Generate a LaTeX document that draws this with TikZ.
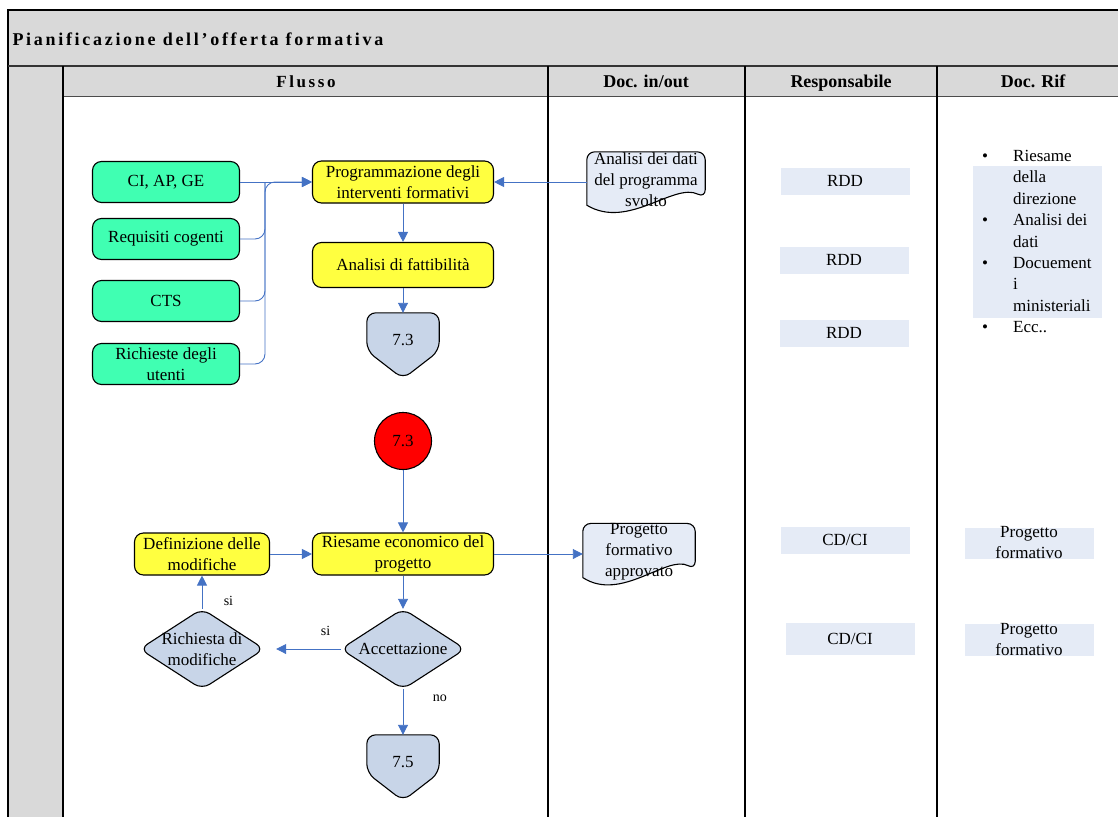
\documentclass[tikz,border=0pt]{standalone}
\usepackage{fontspec}
\setmainfont{Liberation Serif}
\usetikzlibrary{arrows.meta,calc,backgrounds}
\definecolor{verdeacqua}{RGB}{64,255,178}
\definecolor{giallo}{RGB}{255,255,64}
\definecolor{grigioblu}{RGB}{200,213,232}
\definecolor{azzurrino}{RGB}{229,235,246}
\definecolor{blulinea}{RGB}{68,114,196}
\definecolor{grigiotab}{RGB}{217,217,217}
\newcommand{\spaziato}{\addfontfeatures{LetterSpace=15}}
\newcommand{\punto}{\makebox[31pt][l]{\textbullet}}
\newcommand{\rientro}{\hspace*{31pt}}

\begin{document}
\begin{tikzpicture}[x=1pt,y=-1pt,
		font=\fontsize{17}{21}\selectfont,
		flow/.style={-{Triangle[length=10pt,width=10pt]}, draw=blulinea, line width=0.9pt},
		linea/.style={draw=blulinea, line width=0.9pt},
		ingresso/.style={draw, line width=1.1pt, rounded corners=9pt, fill=verdeacqua, minimum width=147pt, minimum height=41pt, align=center, inner sep=1pt},
		attivita/.style={draw, line width=1.1pt, rounded corners=9pt, fill=giallo, minimum width=181pt, minimum height=42pt, align=center, inner sep=1pt},
		connettore/.style={minimum width=72pt, minimum height=54pt, inner sep=0pt},
		decisione/.style={minimum width=124pt, minimum height=80pt, inner sep=0pt, align=center},
		documento/.style={minimum width=118pt, minimum height=56pt, inner sep=0pt, align=center},
		bordo/.style={draw, line width=1.1pt, fill=#1},
		ruolo/.style={fill=azzurrino, minimum width=129pt, minimum height=27pt, inner sep=0pt, align=center},
		intestazione/.style={anchor=base, font=\fontsize{18}{21}\selectfont\bfseries},
		etichetta/.style={font=\fontsize{14}{16}\selectfont}]
	% tabella
	\useasboundingbox (0,0) rectangle (1118,816);
	\clip (0,0) rectangle (1118,816);
	\fill[grigiotab] (8,10) rectangle (1130,66);
	\fill[grigiotab] (8,66) rectangle (63,820);
	\fill[grigiotab] (63,66) rectangle (1130,96);
	\draw[line width=1.5pt] (8,820) -- (8,10) -- (1130,10);
	\draw[line width=2.5pt, black!80] (8,66) -- (1130,66);
	\draw[line width=1pt, black!70] (63,96) -- (1130,96);
	\draw[line width=2pt] (63,66) -- (63,820);
	\foreach \x in {548,745,937}
		\draw[line width=1.5pt] (\x,66) -- (\x,820);
	\node[anchor=base west, font=\fontsize{18}{20}\selectfont\bfseries\spaziato] (titolo) at (9,46) {Pianificazione dell'offerta formativa};
	\node[intestazione, font=\fontsize{17}{20}\selectfont\bfseries\spaziato] (hflusso) at (306,87) {Flusso};
	\node[intestazione] (hdoc) at (646,87) {Doc. in/out};
	\node[intestazione] (hresp) at (841,87) {Responsabile};
	\node[intestazione] (hrif) at (1033,87) {Doc. Rif};

	% flusso
	\node[ingresso] (ciapge) at (166,182) {CI, AP, GE};
	\node[ingresso] (requisiti) at (166,239) {Requisiti cogenti};
	\node[ingresso] (cts) at (166,301) {CTS};
	\node[ingresso] (richieste) at (166,364) {Richieste degli\\utenti};
	\node[attivita] (programma) at (403,182) {Programmazione degli\\interventi formativi};
	\node[attivita, minimum height=45pt] (fattibilita) at (403,265) {Analisi di fattibilità};
	\node[connettore] (off73) at (403,340) {7.3};
	\node[circle, draw, line width=1.1pt, fill=red, minimum size=57pt, inner sep=0pt] (cerchio) at (403,441) {7.3};
	\node[attivita] (riesame) at (403,554) {Riesame economico del\\progetto};
	\node[attivita, minimum width=135pt] (definizione) at (202,554) {Definizione delle\\modifiche};
	\node[decisione] (richiesta) at (202,649) {Richiesta di\\modifiche};
	\node[decisione] (accettazione) at (403,649) {Accettazione};
	\node[connettore] (off75) at (403,762) {7.5};
	\coordinate (tronco) at (265,182);

	% documenti
	\node[documento] (datiprog) at (646,180) {Analisi dei dati\\del programma\\svolto};
	\node[documento, minimum width=112pt] (progapprov) at (639,552) {Progetto\\formativo\\approvato};

	% responsabili e riferimenti
	\node[ruolo] (rdd1) at (845,181) {RDD};
	\node[ruolo] (rdd2) at (844,260) {RDD};
	\node[ruolo] (rdd3) at (844,333) {RDD};
	\node[ruolo] (cdci1) at (845,540) {CD/CI};
	\node[ruolo, minimum height=32pt] (cdci2) at (850,639) {CD/CI};
	\node[ruolo, minimum height=152pt] (sfondorif) at (1037,242) {};
	\node[anchor=north west, inner sep=0pt, align=left, font=\fontsize{17}{21.4}\selectfont] (elenco) at (982,150)
		{\punto Riesame\\ \rientro della\\ \rientro direzione\\ \punto Analisi dei\\ \rientro dati\\ \punto Docuement\\ \rientro i\\ \rientro ministeriali\\ \punto Ecc..};
	\node[ruolo, minimum height=31pt, inner ysep=-4pt] (rif1) at (1029,543) {Progetto\\formativo};
	\node[ruolo, minimum height=32pt, inner ysep=-4pt] (rif2) at (1029,640) {Progetto\\formativo};

	% contorni
	\begin{scope}[on background layer]
		\foreach \c in {off73,off75}
			\draw[bordo=grigioblu, rounded corners=9pt] (\c.north west) -- (\c.north east) -- ($(\c.north east)+(0,38)$) -- ($(\c.north)+(0,66)$) -- ($(\c.north west)+(0,38)$) -- cycle;
		\foreach \c in {richiesta,accettazione}
			\draw[bordo=grigioblu, rounded corners=9pt] (\c.north) -- (\c.east) -- (\c.south) -- (\c.west) -- cycle;
		\foreach \c in {datiprog,progapprov}
			\draw[bordo=azzurrino] ($(\c.south west)+(0,-3)$) [rounded corners=8pt] -- (\c.north west) -- (\c.north east) -- ($(\c.north east)+(0,46)$) [sharp corners] .. controls ($(\c.south)+(28,-26)$) and ($(\c.south)+(-18,22)$) .. ($(\c.south west)+(0,-3)$) -- cycle;
	\end{scope}

	% collegamenti
	\draw[flow] (ciapge.east) -- (programma.west);
	\draw[flow, rounded corners=10pt] (richieste.east) -| (tronco) -- (programma.west);
	\draw[linea, rounded corners=10pt] (requisiti.east) -| (tronco);
	\draw[linea, rounded corners=10pt] (cts.east) -| (tronco);
	\draw[flow] (programma) -- (fattibilita);
	\draw[flow] (fattibilita) -- (off73.north);
	\draw[flow] (datiprog.west |- programma) -- (programma.east);
	\draw[flow] (cerchio) -- (riesame);
	\draw[flow] (definizione) -- (riesame);
	\draw[flow] (riesame) -- (progapprov.west |- riesame);
	\draw[flow] (riesame) -- (accettazione.north);
	\draw[flow, shorten >=12pt] (accettazione.west) -- (richiesta.east)
		node[etichetta, pos=0.2, above=10pt] {si};
	\draw[flow] (richiesta.north) -- (definizione.south)
		node[etichetta, pos=0.25, right=18pt] {si};
	\draw[flow] (accettazione.south) -- (off75.north)
		node[etichetta, pos=0.2, right=26pt] {no};
\end{tikzpicture}
\end{document}
